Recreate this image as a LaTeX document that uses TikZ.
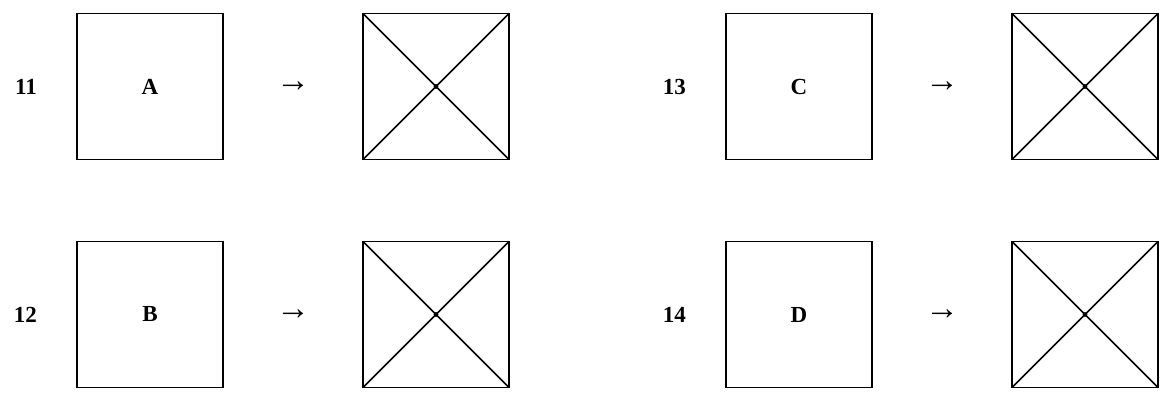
\documentclass[tikz,border=0pt]{standalone}
\usepackage{fontspec}
\setmainfont{Liberation Serif}
\usetikzlibrary{positioning,calc}

\begin{document}
\begin{tikzpicture}[
  x=1pt, y=-1pt,
  node distance=140pt,
  every node/.style={font=\fontsize{23}{27}\selectfont\bfseries},
  box/.style={
    draw,
    line width=1.8pt,
    minimum size=146pt,
    inner sep=0pt,
    outer sep=0pt
  },
  num/.style={anchor=east, inner sep=0pt},
  arr/.style={inner sep=0pt, font=\fontsize{34}{36}\selectfont\bfseries}
]
\useasboundingbox (0,0) rectangle (1168,393);

% Nodes
\node[box] (A) at (150,86.5) {A};
\node[box, right=of A] (A2) {};
\node[box] (B) at (150,314.5) {B};
\node[box, right=of B] (B2) {};
\node[box] (C) at (799,86.5) {C};
\node[box, right=of C] (C2) {};
\node[box] (D) at (799,314.5) {D};
\node[box, right=of D] (D2) {};

% Numbers
\node[num, left=40pt of A] (nA) {11};
\node[num, left=40pt of B] (nB) {12};
\node[num, left=40pt of C] (nC) {13};
\node[num, left=40pt of D] (nD) {14};

% Arrows
\node[arr] (tA) at ($(A.east)!0.5!(A2.west)$) {→};
\node[arr] (tB) at ($(B.east)!0.5!(B2.west)$) {→};
\node[arr] (tC) at ($(C.east)!0.5!(C2.west)$) {→};
\node[arr] (tD) at ($(D.east)!0.5!(D2.west)$) {→};

% Diagonals
\foreach \n in {A2,B2,C2,D2} {
  \draw[line width=1.5pt] (\n.north west) -- (\n.south east);
  \draw[line width=1.5pt] (\n.south west) -- (\n.north east);
  \fill (\n.center) circle (2.4pt);
}

\end{tikzpicture}
\end{document}
